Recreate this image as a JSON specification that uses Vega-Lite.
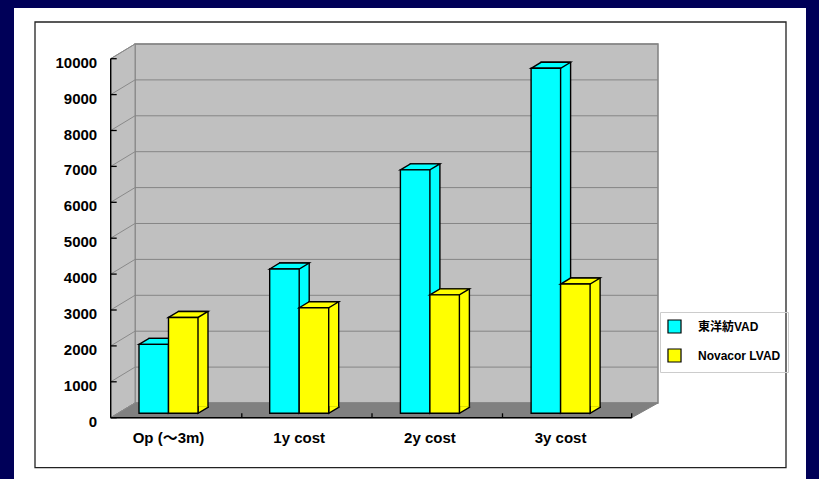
{
  "$schema": "https://vega.github.io/schema/vega-lite/v6.json",
  "width": 792,
  "height": 471,
  "autosize": {"type": "none"},
  "padding": {"left": 14, "top": 8, "right": 13, "bottom": 0},
  "background": "#000058",
  "view": {"fill": "white", "stroke": null},
  "datasets": {
    "costs": [
      {"cat": "Op (〜3m)", "series": "東洋紡VAD", "value": 1920},
      {"cat": "Op (〜3m)", "series": "Novacor LVAD", "value": 2670},
      {"cat": "1y cost", "series": "東洋紡VAD", "value": 4020},
      {"cat": "1y cost", "series": "Novacor LVAD", "value": 2940},
      {"cat": "2y cost", "series": "東洋紡VAD", "value": 6780},
      {"cat": "2y cost", "series": "Novacor LVAD", "value": 3300},
      {"cat": "3y cost", "series": "東洋紡VAD", "value": 9610},
      {"cat": "3y cost", "series": "Novacor LVAD", "value": 3600}
    ],
    "ticks": [
      {"v": 0}, {"v": 1000}, {"v": 2000}, {"v": 3000}, {"v": 4000}, {"v": 5000},
      {"v": 6000}, {"v": 7000}, {"v": 8000}, {"v": 9000}, {"v": 10000}
    ],
    "sidewall": [
      {"u": -0.44223, "top": 9877.4, "bot": -122.6},
      {"u": -0.25631, "top": 10286.9, "bot": 286.9}
    ],
    "floor": [
      {"u": -0.44223, "top": -122.6, "bot": -122.6},
      {"u": -0.25631, "top": 286.9, "bot": -122.6},
      {"u": 3.54399, "top": 286.9, "bot": -122.6},
      {"u": 3.74522, "top": 286.9, "bot": 286.9}
    ],
    "floorticks": [
      {"u": 0.56083}, {"u": 1.557}, {"u": 2.55547}, {"u": 3.54399}
    ]
  },
  "layer": [
    {
      "layer": [
        {
          "data": {"values": [{}]},
          "mark": {"type": "rect", "fill": "white", "fillOpacity": 0, "stroke": "#222222", "strokeWidth": 1.3},
          "encoding": {
            "x": {"datum": -1.02142, "type": "quantitative", "scale": {"domain": [-1.1821, 4.87758], "nice": false, "zero": false}, "axis": null},
            "x2": {"datum": 4.72456},
            "y": {"datum": 10899.7, "type": "quantitative", "scale": {"domain": [-1830.1, 11289.7], "nice": false, "zero": false}, "axis": {"orient": "left", "offset": -96.7, "domain": false, "ticks": false, "grid": false, "labelPadding": 14, "labelOffset": 8, "values": [0, 1000, 2000, 3000, 4000, 5000, 6000, 7000, 8000, 9000, 10000], "format": "d", "title": null, "labelFontSize": 15}},
            "y2": {"datum": -1515.3}
          }
        },
        {
          "data": {"values": [{}]},
          "mark": {"type": "rect", "fill": "#c0c0c0", "stroke": "#808080", "strokeWidth": 1.5},
          "encoding": {
            "x": {"datum": -0.25631, "type": "quantitative", "scale": {"domain": [-1.1821, 4.87758], "nice": false, "zero": false}, "axis": null},
            "x2": {"datum": 3.74522},
            "y": {"datum": 10286.9, "type": "quantitative", "scale": {"domain": [-1830.1, 11289.7], "nice": false, "zero": false}, "axis": {"orient": "left", "offset": -96.7, "domain": false, "ticks": false, "grid": false, "labelPadding": 14, "labelOffset": 8, "values": [0, 1000, 2000, 3000, 4000, 5000, 6000, 7000, 8000, 9000, 10000], "format": "d", "title": null, "labelFontSize": 15}},
            "y2": {"datum": 286.9}
          }
        },
        {
          "data": {"name": "sidewall"},
          "mark": {"type": "area", "fill": "#c0c0c0", "stroke": "#8a8a8a", "strokeWidth": 1},
          "encoding": {
            "x": {"field": "u", "type": "quantitative", "scale": {"domain": [-1.1821, 4.87758], "nice": false, "zero": false}, "axis": null},
            "y": {"field": "top", "type": "quantitative", "scale": {"domain": [-1830.1, 11289.7], "nice": false, "zero": false}, "axis": {"orient": "left", "offset": -96.7, "domain": false, "ticks": false, "grid": false, "labelPadding": 14, "labelOffset": 8, "values": [0, 1000, 2000, 3000, 4000, 5000, 6000, 7000, 8000, 9000, 10000], "format": "d", "title": null, "labelFontSize": 15}},
            "y2": {"field": "bot"}
          }
        },
        {
          "data": {"name": "floor"},
          "mark": {"type": "area", "fill": "#808080", "stroke": "#808080", "strokeWidth": 1},
          "encoding": {
            "x": {"field": "u", "type": "quantitative", "scale": {"domain": [-1.1821, 4.87758], "nice": false, "zero": false}, "axis": null},
            "y": {"field": "top", "type": "quantitative", "scale": {"domain": [-1830.1, 11289.7], "nice": false, "zero": false}, "axis": {"orient": "left", "offset": -96.7, "domain": false, "ticks": false, "grid": false, "labelPadding": 14, "labelOffset": 8, "values": [0, 1000, 2000, 3000, 4000, 5000, 6000, 7000, 8000, 9000, 10000], "format": "d", "title": null, "labelFontSize": 15}},
            "y2": {"field": "bot"}
          }
        },
        {
          "data": {"name": "ticks"},
          "transform": [{"filter": "datum.v > 0"}],
          "mark": {"type": "rule", "stroke": "#858585", "strokeWidth": 1, "yOffset": -10.3},
          "encoding": {
            "x": {"datum": -0.25631, "type": "quantitative", "scale": {"domain": [-1.1821, 4.87758], "nice": false, "zero": false}, "axis": null},
            "x2": {"datum": 3.74522},
            "y": {"field": "v", "type": "quantitative", "scale": {"domain": [-1830.1, 11289.7], "nice": false, "zero": false}, "axis": {"orient": "left", "offset": -96.7, "domain": false, "ticks": false, "grid": false, "labelPadding": 14, "labelOffset": 8, "values": [0, 1000, 2000, 3000, 4000, 5000, 6000, 7000, 8000, 9000, 10000], "format": "d", "title": null, "labelFontSize": 15}}
          }
        },
        {
          "data": {"name": "ticks"},
          "mark": {"type": "rule", "stroke": "#8a8a8a", "strokeWidth": 1, "yOffset": 4.4, "y2Offset": -10.3},
          "encoding": {
            "x": {"datum": -0.44223, "type": "quantitative", "scale": {"domain": [-1.1821, 4.87758], "nice": false, "zero": false}, "axis": null},
            "x2": {"datum": -0.25631},
            "y": {"field": "v", "type": "quantitative", "scale": {"domain": [-1830.1, 11289.7], "nice": false, "zero": false}, "axis": {"orient": "left", "offset": -96.7, "domain": false, "ticks": false, "grid": false, "labelPadding": 14, "labelOffset": 8, "values": [0, 1000, 2000, 3000, 4000, 5000, 6000, 7000, 8000, 9000, 10000], "format": "d", "title": null, "labelFontSize": 15}},
            "y2": {"field": "v"}
          }
        },
        {
          "data": {"values": [{}]},
          "mark": {"type": "rule", "stroke": "black", "strokeWidth": 1.4, "yOffset": 4.4, "y2Offset": 4.4},
          "encoding": {
            "x": {"datum": -0.44223, "type": "quantitative", "scale": {"domain": [-1.1821, 4.87758], "nice": false, "zero": false}, "axis": null},
            "y": {"datum": 0, "type": "quantitative", "scale": {"domain": [-1830.1, 11289.7], "nice": false, "zero": false}, "axis": {"orient": "left", "offset": -96.7, "domain": false, "ticks": false, "grid": false, "labelPadding": 14, "labelOffset": 8, "values": [0, 1000, 2000, 3000, 4000, 5000, 6000, 7000, 8000, 9000, 10000], "format": "d", "title": null, "labelFontSize": 15}},
            "y2": {"datum": 10000}
          }
        },
        {
          "data": {"values": [{}]},
          "mark": {"type": "rule", "stroke": "black", "strokeWidth": 1.4, "yOffset": 4.4},
          "encoding": {
            "x": {"datum": -0.44223, "type": "quantitative", "scale": {"domain": [-1.1821, 4.87758], "nice": false, "zero": false}, "axis": null},
            "x2": {"datum": 3.54399},
            "y": {"datum": 0, "type": "quantitative", "scale": {"domain": [-1830.1, 11289.7], "nice": false, "zero": false}, "axis": {"orient": "left", "offset": -96.7, "domain": false, "ticks": false, "grid": false, "labelPadding": 14, "labelOffset": 8, "values": [0, 1000, 2000, 3000, 4000, 5000, 6000, 7000, 8000, 9000, 10000], "format": "d", "title": null, "labelFontSize": 15}}
          }
        },
        {
          "data": {"name": "ticks"},
          "mark": {"type": "rule", "stroke": "black", "strokeWidth": 1.3, "yOffset": 4.4},
          "encoding": {
            "x": {"datum": -0.44223, "type": "quantitative", "scale": {"domain": [-1.1821, 4.87758], "nice": false, "zero": false}, "axis": null},
            "x2": {"datum": -0.39633},
            "y": {"field": "v", "type": "quantitative", "scale": {"domain": [-1830.1, 11289.7], "nice": false, "zero": false}, "axis": {"orient": "left", "offset": -96.7, "domain": false, "ticks": false, "grid": false, "labelPadding": 14, "labelOffset": 8, "values": [0, 1000, 2000, 3000, 4000, 5000, 6000, 7000, 8000, 9000, 10000], "format": "d", "title": null, "labelFontSize": 15}}
          }
        },
        {
          "data": {"name": "floorticks"},
          "mark": {"type": "rule", "stroke": "black", "strokeWidth": 1.3, "yOffset": 4.4, "y2Offset": 0},
          "encoding": {
            "x": {"field": "u", "type": "quantitative", "scale": {"domain": [-1.1821, 4.87758], "nice": false, "zero": false}, "axis": null},
            "y": {"datum": 0, "type": "quantitative", "scale": {"domain": [-1830.1, 11289.7], "nice": false, "zero": false}, "axis": {"orient": "left", "offset": -96.7, "domain": false, "ticks": false, "grid": false, "labelPadding": 14, "labelOffset": 8, "values": [0, 1000, 2000, 3000, 4000, 5000, 6000, 7000, 8000, 9000, 10000], "format": "d", "title": null, "labelFontSize": 15}},
            "y2": {"datum": 0}
          }
        }
      ]
    },
    {
      "data": {"name": "costs"},
      "encoding": {
        "x": {
          "field": "cat", "type": "nominal",
          "sort": ["Op (〜3m)", "1y cost", "2y cost", "3y cost"],
          "scale": {"range": [125, 576.1], "paddingInner": 0.54859, "paddingOuter": 0},
          "axis": {"orient": "bottom", "offset": -61.3, "domain": false, "ticks": false, "labelPadding": 13, "labelAngle": 0, "title": null, "labelFontSize": 15}
        },
        "color": {
          "field": "series", "type": "nominal",
          "scale": {"domain": ["東洋紡VAD", "Novacor LVAD"], "range": ["#00FFFF", "#FFFF00"]},
          "legend": {
            "title": null, "orient": "none", "legendX": 646, "legendY": 304,
            "symbolType": "square", "symbolSize": 170, "symbolStrokeColor": "black", "symbolStrokeWidth": 1.2,
            "symbolOpacity": 1,
            "labelFontSize": 12, "labelFontWeight": "bold", "labelOffset": 16,
            "rowPadding": 10, "padding": 7, "strokeColor": "#cccccc",
            "labelFont": "Liberation Sans, Noto Sans CJK JP", "labelColor": "black"
          }
        }
      },
      "layer": [
        {
          "transform": [{"filter": {"field": "series", "equal": "東洋紡VAD"}}],
          "mark": {"type": "bar", "width": 29.5, "xOffset": -4.75, "yOffset": -6, "y2Offset": -6, "stroke": "black", "strokeWidth": 1.4},
          "encoding": {
            "y": {"field": "value", "type": "quantitative", "scale": {"domain": [-1830.1, 11289.7], "nice": false, "zero": false}, "axis": {"orient": "left", "offset": -96.7, "domain": false, "ticks": false, "grid": false, "labelPadding": 14, "labelOffset": 8, "values": [0, 1000, 2000, 3000, 4000, 5000, 6000, 7000, 8000, 9000, 10000], "format": "d", "title": null, "labelFontSize": 15}},
            "y2": {"datum": 0}
          }
        },
        {
          "transform": [{"filter": {"field": "series", "equal": "東洋紡VAD"}}],
          "mark": {"type": "point", "shape": "M14.75,-7L14.75,0L24.75,-6L24.75,-7", "size": 4, "filled": true, "opacity": 1, "xOffset": -14.75, "stroke": "black", "strokeWidth": 1.4},
          "encoding": {
            "y": {"datum": 0, "type": "quantitative", "scale": {"domain": [-1830.1, 11289.7], "nice": false, "zero": false}, "axis": {"orient": "left", "offset": -96.7, "domain": false, "ticks": false, "grid": false, "labelPadding": 14, "labelOffset": 8, "values": [0, 1000, 2000, 3000, 4000, 5000, 6000, 7000, 8000, 9000, 10000], "format": "d", "title": null, "labelFontSize": 15}}
          }
        },
        {
          "transform": [{"filter": {"field": "series", "equal": "東洋紡VAD"}}],
          "mark": {"type": "point", "shape": "M-14.75,0L-4.75,-6L24.75,-6L14.75,0Z", "size": 4, "filled": true, "opacity": 1, "xOffset": -14.75, "stroke": "black", "strokeWidth": 1.4},
          "encoding": {
            "y": {"field": "value", "type": "quantitative", "scale": {"domain": [-1830.1, 11289.7], "nice": false, "zero": false}, "axis": {"orient": "left", "offset": -96.7, "domain": false, "ticks": false, "grid": false, "labelPadding": 14, "labelOffset": 8, "values": [0, 1000, 2000, 3000, 4000, 5000, 6000, 7000, 8000, 9000, 10000], "format": "d", "title": null, "labelFontSize": 15}}
          }
        },
        {
          "transform": [{"filter": {"field": "series", "equal": "東洋紡VAD"}}],
          "mark": {"type": "bar", "width": 29.5, "xOffset": -14.75, "stroke": "black", "strokeWidth": 1.4},
          "encoding": {
            "y": {"field": "value", "type": "quantitative", "scale": {"domain": [-1830.1, 11289.7], "nice": false, "zero": false}, "axis": {"orient": "left", "offset": -96.7, "domain": false, "ticks": false, "grid": false, "labelPadding": 14, "labelOffset": 8, "values": [0, 1000, 2000, 3000, 4000, 5000, 6000, 7000, 8000, 9000, 10000], "format": "d", "title": null, "labelFontSize": 15}},
            "y2": {"datum": 0}
          }
        },
        {
          "transform": [{"filter": {"field": "series", "equal": "Novacor LVAD"}}],
          "mark": {"type": "bar", "width": 29.5, "xOffset": 24.75, "yOffset": -6, "y2Offset": -6, "stroke": "black", "strokeWidth": 1.4},
          "encoding": {
            "y": {"field": "value", "type": "quantitative", "scale": {"domain": [-1830.1, 11289.7], "nice": false, "zero": false}, "axis": {"orient": "left", "offset": -96.7, "domain": false, "ticks": false, "grid": false, "labelPadding": 14, "labelOffset": 8, "values": [0, 1000, 2000, 3000, 4000, 5000, 6000, 7000, 8000, 9000, 10000], "format": "d", "title": null, "labelFontSize": 15}},
            "y2": {"datum": 0}
          }
        },
        {
          "transform": [{"filter": {"field": "series", "equal": "Novacor LVAD"}}],
          "mark": {"type": "point", "shape": "M14.75,-7L14.75,0L24.75,-6L24.75,-7", "size": 4, "filled": true, "opacity": 1, "xOffset": 14.75, "stroke": "black", "strokeWidth": 1.4},
          "encoding": {
            "y": {"datum": 0, "type": "quantitative", "scale": {"domain": [-1830.1, 11289.7], "nice": false, "zero": false}, "axis": {"orient": "left", "offset": -96.7, "domain": false, "ticks": false, "grid": false, "labelPadding": 14, "labelOffset": 8, "values": [0, 1000, 2000, 3000, 4000, 5000, 6000, 7000, 8000, 9000, 10000], "format": "d", "title": null, "labelFontSize": 15}}
          }
        },
        {
          "transform": [{"filter": {"field": "series", "equal": "Novacor LVAD"}}],
          "mark": {"type": "point", "shape": "M-14.75,0L-4.75,-6L24.75,-6L14.75,0Z", "size": 4, "filled": true, "opacity": 1, "xOffset": 14.75, "stroke": "black", "strokeWidth": 1.4},
          "encoding": {
            "y": {"field": "value", "type": "quantitative", "scale": {"domain": [-1830.1, 11289.7], "nice": false, "zero": false}, "axis": {"orient": "left", "offset": -96.7, "domain": false, "ticks": false, "grid": false, "labelPadding": 14, "labelOffset": 8, "values": [0, 1000, 2000, 3000, 4000, 5000, 6000, 7000, 8000, 9000, 10000], "format": "d", "title": null, "labelFontSize": 15}}
          }
        },
        {
          "transform": [{"filter": {"field": "series", "equal": "Novacor LVAD"}}],
          "mark": {"type": "bar", "width": 29.5, "xOffset": 14.75, "stroke": "black", "strokeWidth": 1.4},
          "encoding": {
            "y": {"field": "value", "type": "quantitative", "scale": {"domain": [-1830.1, 11289.7], "nice": false, "zero": false}, "axis": {"orient": "left", "offset": -96.7, "domain": false, "ticks": false, "grid": false, "labelPadding": 14, "labelOffset": 8, "values": [0, 1000, 2000, 3000, 4000, 5000, 6000, 7000, 8000, 9000, 10000], "format": "d", "title": null, "labelFontSize": 15}},
            "y2": {"datum": 0}
          }
        }
      ]
    }
  ],
  "resolve": {"scale": {"x": "independent"}},
  "config": {
    "font": "Liberation Sans",
    "axis": {"labelFont": "Liberation Sans, Noto Sans CJK JP", "labelFontWeight": "bold", "labelColor": "black"},
    "legend": {"labelFont": "Liberation Sans, Noto Sans CJK JP"}
  }
}
